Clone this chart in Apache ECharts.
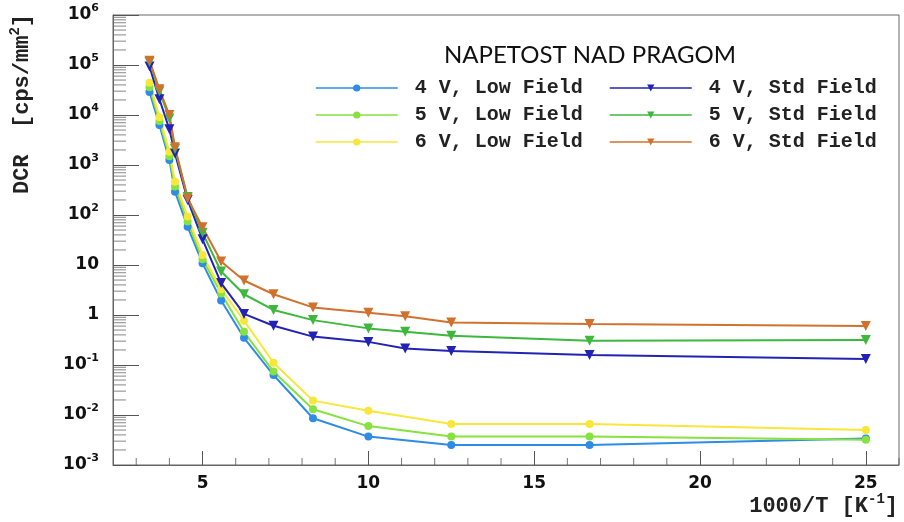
<!DOCTYPE html>
<html>
<head>
<meta charset="utf-8">
<script src="https://cdn.jsdelivr.net/npm/echarts@6/dist/echarts.min.js"></script>
<style>
  html, body { margin: 0; padding: 0; background: #fff; }
  #chart { width: 904px; height: 522px; }
</style>
</head>
<body>
<div id="chart"></div>
<script>
// 1000/T [1/K] sampling points
const invTempStd = [3.40, 3.70, 4.00, 4.17, 4.55, 5.00, 5.56, 6.25, 7.14, 8.33, 10.0, 11.11, 12.5, 16.67, 25.0];
const invTempLow = [3.40, 3.70, 4.00, 4.17, 4.55, 5.00, 5.56, 6.25, 7.14, 8.33, 10.0, 12.5, 16.67, 25.0];

// Dark count rate [cps/mm^2]
const dcr4VLow = [2.9e4, 6.3e3, 1.26e3, 293, 58, 10.8, 1.95, 0.35, 0.063, 0.0086, 0.0037, 0.0025, 0.0025, 0.0034];
const dcr5VLow = [3.6e4, 7.6e3, 1.5e3, 370, 74, 13, 2.7, 0.46, 0.074, 0.013, 0.006, 0.0037, 0.0037, 0.0032];
const dcr6VLow = [4.4e4, 9.0e3, 1.85e3, 464, 93, 15.8, 3.26, 0.77, 0.111, 0.0194, 0.0122, 0.0066, 0.0066, 0.0050];
const dcr4VStd = [9.3e4, 2.06e4, 5.2e3, 1.7e3, 200, 32.6, 4.35, 1.05, 0.61, 0.37, 0.29, 0.213, 0.19, 0.158, 0.132];
const dcr5VStd = [1.15e5, 3.0e4, 8.5e3, 2.1e3, 230, 44, 7.4, 2.6, 1.26, 0.79, 0.54, 0.46, 0.386, 0.307, 0.316];
const dcr6VStd = [1.22e5, 3.27e4, 1.0e4, 2.26e3, 215, 56.7, 11.7, 4.9, 2.6, 1.42, 1.11, 0.94, 0.71, 0.66, 0.60];

const seriesNames = ['4 V, Low Field', '5 V, Low Field', '6 V, Low Field',
                     '4 V, Std Field', '5 V, Std Field', '6 V, Std Field'];
const seriesColors = ['#2E8BE6', '#86E23E', '#F8E63A', '#2222B5', '#3DB83D', '#D0722E'];

const X_MIN = 2.3, X_MAX = 26;
const Y_MIN = 1e-3, Y_MAX = 1e6;

const xTickLabels = [5, 10, 15, 20, 25];
const xMinorTicks = [3, 4, 6, 7, 8, 9, 11, 12, 13, 14, 16, 17, 18, 19, 21, 22, 23, 24, 26];

// log-axis minor ticks: 2..9 within each decade
const yMinorTicks = [];
for (let d = -3; d < 6; d++) {
  for (let k = 2; k <= 9; k++) yMinorTicks.push(k * Math.pow(10, d));
}

const tickFont = 'DejaVu Sans';
const monoFont = 'Liberation Mono';
const tickColor = '#555';

function pairs(xs, ys) { return ys.map((v, i) => [xs[i], v]); }

const lowData = [dcr4VLow, dcr5VLow, dcr6VLow];
const stdData = [dcr4VStd, dcr5VStd, dcr6VStd];

const series = [];
lowData.forEach((ys, i) => {
  series.push({
    name: seriesNames[i], type: 'line', data: pairs(invTempLow, ys),
    symbol: 'circle', symbolSize: 8, color: seriesColors[i],
    lineStyle: { width: 2 }, z: 3
  });
});
stdData.forEach((ys, i) => {
  series.push({
    name: seriesNames[i + 3], type: 'line', data: pairs(invTempStd, ys),
    symbol: 'triangle', symbolRotate: 180, symbolSize: 10, color: seriesColors[i + 3],
    lineStyle: { width: 2 }, z: 4
  });
});

// short inward minor ticks along the bottom and left frame edges
series.push({
  type: 'scatter', silent: true, z: 1, clip: false,
  data: xMinorTicks.map(v => [v, Y_MIN]),
  symbol: 'rect', symbolSize: [1, 7], symbolOffset: [0, -3.5],
  itemStyle: { color: tickColor }
});
series.push({
  type: 'scatter', silent: true, z: 1, clip: false,
  data: yMinorTicks.map(v => [X_MIN, v]),
  symbol: 'rect', symbolSize: [13, 1], symbolOffset: [6.5, 0],
  itemStyle: { color: '#666' }
});

const legendCommon = {
  orient: 'vertical', top: 73, itemWidth: 82, itemHeight: 9, itemGap: 7,
  formatter: n => ' ' + n,
  lineStyle: { width: 1.5 },
  textStyle: { fontFamily: monoFont, fontWeight: 'bold', fontSize: 20, lineHeight: 20, color: '#222' }
};

const supRich = {
  b: { fontFamily: tickFont, fontWeight: 'bold', fontSize: 17, lineHeight: 24, color: '#111' },
  e: { fontFamily: tickFont, fontWeight: 'bold', fontSize: 11, lineHeight: 12, verticalAlign: 'top', color: '#111' }
};

const titleRich = {
  a: { fontFamily: monoFont, fontWeight: 'bold', fontSize: 22, lineHeight: 28, fill: '#222' },
  s: { fontFamily: monoFont, fontWeight: 'bold', fontSize: 14, lineHeight: 12, verticalAlign: 'top', fill: '#222' }
};

const chart = echarts.init(document.getElementById('chart'), null, { renderer: 'canvas' });
chart.setOption({
  animation: false,
  backgroundColor: '#fff',
  grid: { left: 113, right: 5, top: 15, bottom: 57, show: true, borderColor: '#666', borderWidth: 1 },
  xAxis: {
    type: 'value', min: X_MIN, max: X_MAX, position: 'bottom',
    axisLine: { onZero: false, lineStyle: { color: '#666' } },
    splitLine: { show: false },
    axisTick: { inside: true, length: 14, customValues: xTickLabels, lineStyle: { color: tickColor } },
    axisLabel: { customValues: xTickLabels, margin: 10, fontFamily: tickFont, fontWeight: 'bold', fontSize: 17, color: '#111' }
  },
  yAxis: {
    type: 'log', logBase: 10, min: Y_MIN, max: Y_MAX, position: 'left',
    axisLine: { onZero: false, lineStyle: { color: '#666' } },
    splitLine: { show: false },
    axisTick: { inside: true, length: 26, lineStyle: { color: tickColor } },
    axisLabel: {
      margin: 14,
      formatter: v => {
        const e = Math.round(Math.log10(v));
        if (e === 0) return '{b|1}';
        if (e === 1) return '{b|10}';
        return '{b|10}{e|' + e + '}';
      },
      rich: supRich
    }
  },
  legend: [
    Object.assign({ left: 310, data: seriesNames.slice(0, 3) }, legendCommon),
    Object.assign({ left: 604, data: seriesNames.slice(3) }, legendCommon)
  ],
  graphic: [
    { type: 'text', x: 590, y: 55, style: { text: 'NAPETOST NAD PRAGOM', fontFamily: 'Lato', fontSize: 24, fill: '#111', align: 'center', verticalAlign: 'middle' } },
    { type: 'text', x: 22, y: 14, rotation: Math.PI / 2,
      style: { text: '{a|DCR  [cps/mm}{s|2}{a|]}', rich: titleRich, align: 'right', verticalAlign: 'middle' } },
    { type: 'text', x: 898, y: 506,
      style: { text: '{a|1000/T [K}{s|-1}{a|]}', rich: titleRich, align: 'right', verticalAlign: 'middle' } }
  ],
  series: series
});
</script>
</body>
</html>
